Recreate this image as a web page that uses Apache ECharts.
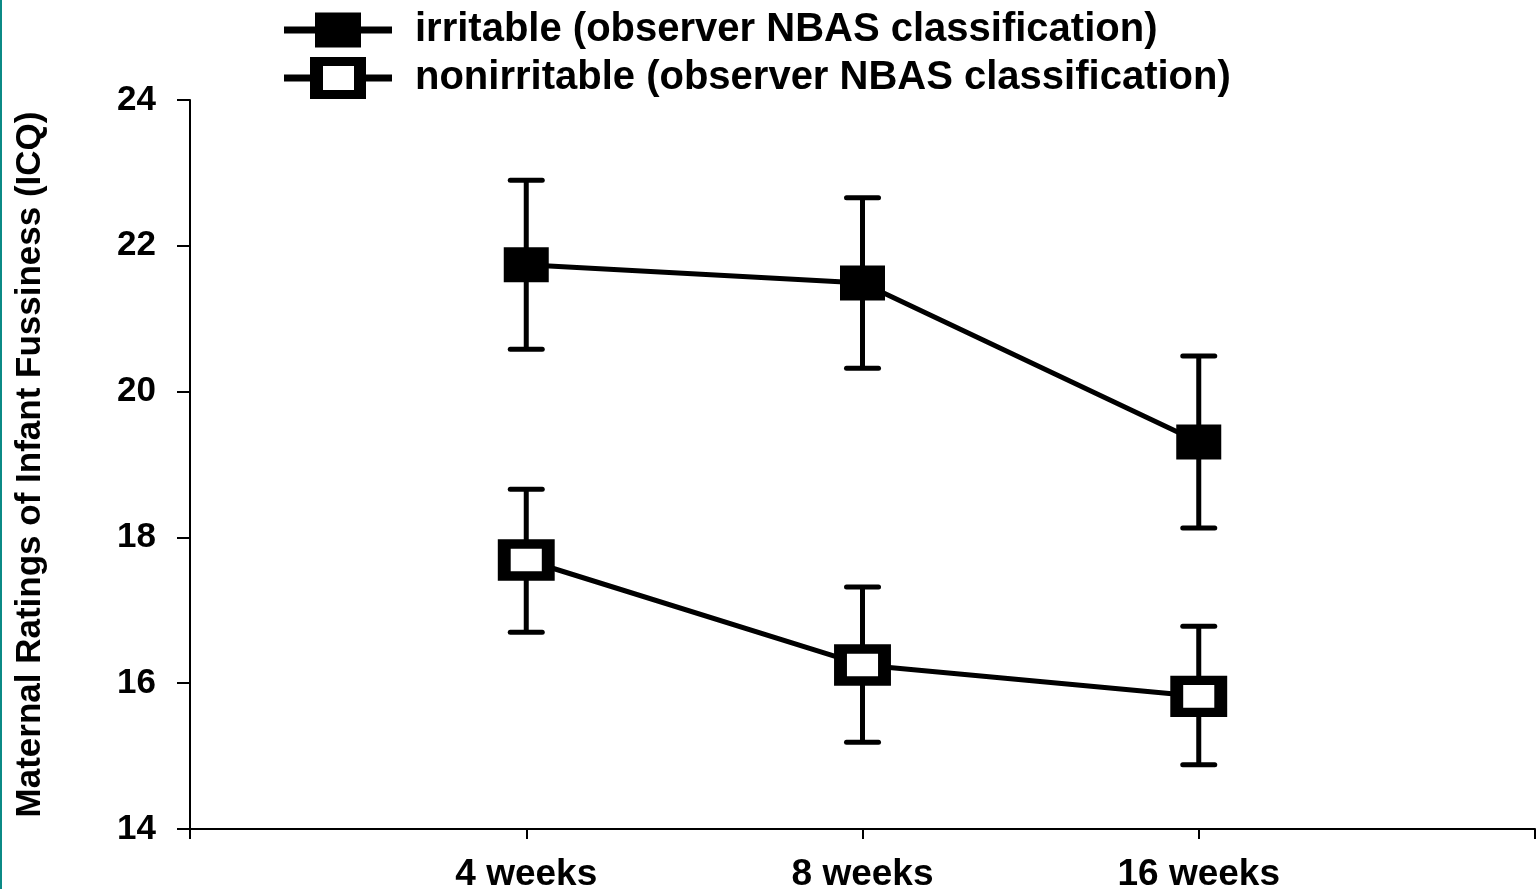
<!DOCTYPE html>
<html>
<head>
<meta charset="utf-8">
<title>Maternal Ratings of Infant Fussiness</title>
<script src="https://cdn.jsdelivr.net/npm/echarts@6/dist/echarts.min.js"></script>
<style>
    html, body { margin: 0; padding: 0; background: #fff; }
    #chart { width: 1537px; height: 889px; }
    .edge { position: absolute; left: 0; top: 0; width: 2px; height: 889px; background: #0b8a86; }
</style>
</head>
<body>
<div id="chart"></div>
<div class="edge"></div>
<script>
    // values
    const categories = ['4 weeks', '8 weeks', '16 weeks']
    const yTicks = [14, 16, 18, 20, 22, 24]

    const irritableName = 'irritable (observer NBAS classification)'
    const irritableMean = [21.74, 21.49, 19.31]
    const irritableUpper = [22.90, 22.66, 20.49]
    const irritableLower = [20.58, 20.32, 18.13]

    const nonName = 'nonirritable (observer NBAS classification)'
    const nonMean = [17.69, 16.25, 15.82]
    const nonUpper = [18.66, 17.32, 16.78]
    const nonLower = [16.70, 15.19, 14.88]

    const font = '"Liberation Sans", Arial, sans-serif'

    // legend icons: line + square, the open one with a hole
    const filledIcon = 'path://M0,14H31V0H77V14H108V21H77V35H31V21H0Z'
    const openIcon = 'path://M0,17.5H26V0H82V17.5H108V24.5H82V42H26V24.5H0Z M39,9V33H70V9Z'

    function points(vals) {
        return vals.map((v, i) => [i + 1, v])
    }

    function bars(lower, upper) {
        return lower.map((v, i) => [i + 1, v, upper[i]])
    }

    // vertical error bar with caps
    function renderBar(params, api) {
        const x = api.value(0)
        const top = api.coord([x, api.value(2)])
        const bot = api.coord([x, api.value(1)])
        const hw = 16
        const st = { stroke: '#000', lineWidth: 5, lineCap: 'round' }
        return {
            type: 'group',
            children: [
                { type: 'line', shape: { x1: top[0], y1: top[1], x2: bot[0], y2: bot[1] }, style: { stroke: '#000', lineWidth: 5 } },
                { type: 'line', shape: { x1: top[0] - hw, y1: top[1], x2: top[0] + hw, y2: top[1] }, style: st },
                { type: 'line', shape: { x1: bot[0] - hw, y1: bot[1], x2: bot[0] + hw, y2: bot[1] }, style: st }
            ]
        }
    }

    const legendBase = {
        orient: 'vertical',
        left: 284,
        padding: 0,
        itemWidth: 108,
        symbolKeepAspect: false,
        selectedMode: false,
        itemStyle: { color: '#000', borderWidth: 0 },
        textStyle: {
            fontFamily: font,
            fontSize: 40,
            fontWeight: 'bold',
            color: '#000',
            padding: [0, 0, 0, 18]
        }
    }

    let option = {
        animation: false,
        backgroundColor: '#fff',
        legend: [
            Object.assign({}, legendBase, {
                top: 10,
                itemHeight: 35,
                data: [{ name: irritableName, icon: filledIcon }]
            }),
            Object.assign({}, legendBase, {
                top: 57,
                itemHeight: 42,
                data: [{ name: nonName, icon: openIcon }]
            })
        ],
        grid: {
            left: 190,
            right: 2,
            top: 100,
            bottom: 60,
            containLabel: false,
            outerBoundsMode: 'none'
        },
        xAxis: {
            type: 'value',
            min: 0,
            max: categories.length + 1,
            interval: 1,
            axisLine: { show: true, lineStyle: { color: '#000', width: 2 } },
            axisTick: { show: true, length: 10, lineStyle: { color: '#000', width: 2 } },
            axisLabel: {
                margin: 27,
                fontFamily: font,
                fontSize: 37,
                fontWeight: 'bold',
                color: '#000',
                formatter: v => categories[v - 1] || ''
            },
            splitLine: { show: false }
        },
        yAxis: {
            type: 'value',
            min: yTicks[0],
            max: yTicks[yTicks.length - 1],
            interval: 2,
            name: 'Maternal Ratings of Infant Fussiness (ICQ)',
            nameLocation: 'middle',
            nameGap: 142,
            nameTextStyle: {
                fontFamily: font,
                fontSize: 35,
                fontWeight: 'bold',
                color: '#000'
            },
            axisLine: { show: true, lineStyle: { color: '#000', width: 2 } },
            axisTick: { show: true, length: 13, lineStyle: { color: '#000', width: 2 } },
            axisLabel: {
                margin: 34,
                fontFamily: font,
                fontSize: 35,
                fontWeight: 'bold',
                color: '#000'
            },
            splitLine: { show: false }
        },
        series: [
            {
                name: 'irritable bars',
                type: 'custom',
                z: 1,
                renderItem: renderBar,
                encode: { x: 0, y: [1, 2] },
                data: bars(irritableLower, irritableUpper)
            },
            {
                name: 'nonirritable bars',
                type: 'custom',
                z: 1,
                renderItem: renderBar,
                encode: { x: 0, y: [1, 2] },
                data: bars(nonLower, nonUpper)
            },
            {
                name: irritableName,
                type: 'line',
                z: 3,
                data: points(irritableMean),
                symbol: 'rect',
                symbolSize: [45, 35],
                lineStyle: { color: '#000', width: 5 },
                itemStyle: { color: '#000', borderWidth: 0 }
            },
            {
                name: nonName,
                type: 'line',
                z: 3,
                data: points(nonMean),
                symbol: 'rect',
                symbolSize: [44, 32],
                lineStyle: { color: '#000', width: 5 },
                itemStyle: { color: '#fff', borderColor: '#000', borderWidth: 11 }
            }
        ]
    }

    var chart = echarts.init(document.getElementById('chart'))
    chart.setOption(option)
</script>
</body>
</html>
